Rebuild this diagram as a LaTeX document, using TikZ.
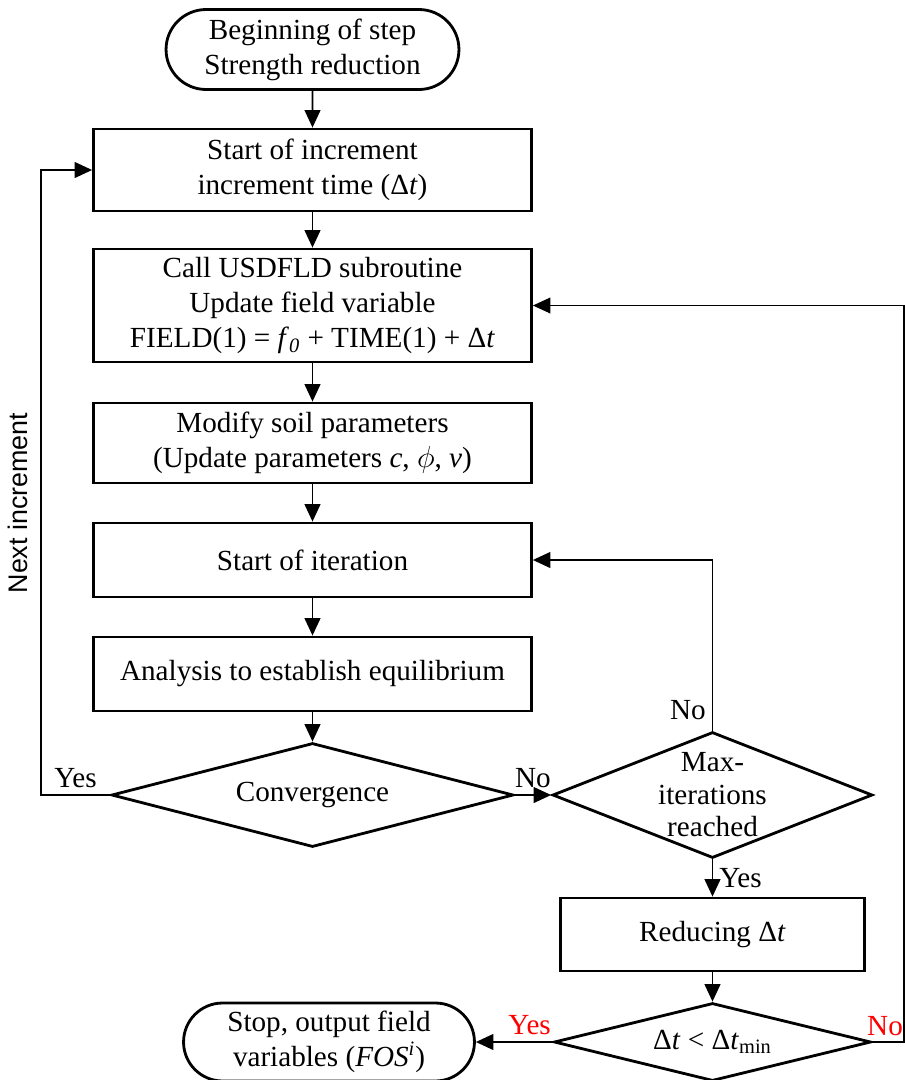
\documentclass[tikz,border=0pt]{standalone}
\usepackage{fontspec}
\setmainfont{Liberation Serif}
\setsansfont{Liberation Sans}
\usetikzlibrary{positioning,shapes.geometric,shapes.misc,arrows.meta}

\begin{document}
\begin{tikzpicture}[x=0.02cm,y=-0.02cm,
  every node/.style={font=\fontsize{16.6}{19.9}\selectfont},
  box/.style={draw,line width=1.6pt,align=center,minimum width=8.76cm,inner sep=2pt},
  term/.style={draw,rounded rectangle,line width=1.6pt,align=center,inner sep=2pt},
  dec/.style={draw,diamond,aspect=4,line width=1.6pt,inner sep=0pt,align=center},
  arr/.style={-{Triangle[length=10pt,width=9pt]},line width=1.1pt},
  thinarr/.style={-{Triangle[length=10pt,width=9pt]},line width=0.8pt}]
\useasboundingbox (0,0) rectangle (905,1080);
\node[term,minimum width=6cm,minimum height=1.6cm] (begin) at (312.5,49.5) {Beginning of step\\Strength reduction};
\node[box,minimum height=1.64cm] (inc) at (312.5,170) {Start of increment\\increment time (Δ\textit{t})};
\node[box,minimum height=2.26cm] (usdfld) at (312.5,305.5) {Call USDFLD subroutine\\Update field variable\\FIELD(1) = \textit{f}\textsubscript{\textit{0}} + TIME(1) + Δ\textit{t}};
\node[box,minimum height=1.6cm] (soil) at (312.5,443) {Modify soil parameters\\(Update parameters \textit{c}, $\phi$, \textit{ν})};
\node[box,minimum height=1.48cm] (iter) at (312.5,560) {Start of iteration};
\node[box,minimum height=1.48cm] (equil) at (312.5,674) {Analysis to establish equilibrium};
\node[dec,minimum width=8.04cm,minimum height=2.08cm] (conv) at (312.5,795) {Convergence};
\node[dec,minimum width=6.4cm,minimum height=2.52cm,
  label={[align=center,font=\fontsize{16.6}{18.5}\selectfont]center:Max-\\iterations\\reached}] (maxit) at (712.5,795) {};
\node[box,minimum width=6.08cm,minimum height=1.46cm] (reduce) at (712.5,934.5) {Reducing Δ\textit{t}};
\node[dec,minimum width=6.34cm,minimum height=1.56cm] (dtmin) at (712.5,1042) {Δ\textit{t} < Δ\textit{t}\textsubscript{min}};
\node[term,minimum width=5.96cm,minimum height=1.56cm] (stop) at (329,1042) {Stop, output field\\variables (\textit{FOS}\textsuperscript{\textit{i}})};
\node[rotate=90,font=\sffamily\fontsize{15.3}{18}\selectfont] (nextinc) at (18,503) {Next increment};
\coordinate (lturn) at (41,795);
\coordinate (rturn) at (904,1042);
\draw[arr] (begin) -- (inc);
\draw[arr] (inc) -- (usdfld);
\draw[arr] (usdfld) -- (soil);
\draw[arr] (soil) -- (iter);
\draw[arr] (iter) -- (equil);
\draw[arr] (equil) -- (conv);
\draw[arr] (conv) -- node[above] {No} (maxit);
\draw[arr] (maxit) -- node[right] {Yes} (reduce);
\draw[arr] (reduce) -- (dtmin);
\draw[arr] (dtmin) -- node[above,pos=.3,text=red] {Yes} (stop);
\draw[arr] (maxit.north) |- node[pos=.06,left] {No} (iter);
\draw[arr] (conv) -- node[above] {Yes} (lturn) |- (inc);
\draw[thinarr] (dtmin) -- node[above,pos=.4,text=red] {No} (rturn) |- (usdfld);
\end{tikzpicture}
\end{document}
